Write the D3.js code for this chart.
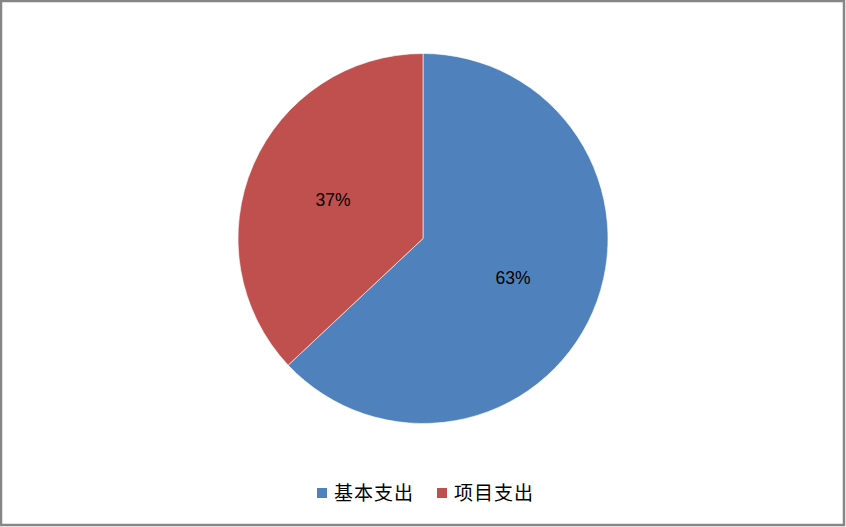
<!DOCTYPE html>
<html>
<head>
<meta charset="utf-8">
<script src="https://cdn.jsdelivr.net/npm/d3@7"></script>
<style>
  body { margin: 0; background: #fff; }
  svg { display: block; }
</style>
</head>
<body>
<svg id="chart"></svg>
<script>
// data //
var categories = ["基本支出", "项目支出"];
var values = [63, 37];
var labels = ["63%", "37%"];
var colors = ["#4f81bd", "#c0504d"];

var screen = {width: 846, height: 527};
var center = {x: 423, y: 238.5};
var radius = 185;

var svg = d3.select("#chart")
            .attr("width", screen.width)
            .attr("height", screen.height);

// outer frame //
svg.append("rect")
   .attr("x", 1)
   .attr("y", 1)
   .attr("width", screen.width - 3)
   .attr("height", screen.height - 3)
   .style("fill", "#fff")
   .style("stroke", "#868686")
   .style("stroke-width", 2.5);

var pie = d3.pie().sort(null).value(function(d) { return d; });
var arcs = pie(values);

var arc = d3.arc().innerRadius(0).outerRadius(radius);
var labelArc = d3.arc().innerRadius(radius * 0.53).outerRadius(radius * 0.53);

var g = svg.append("g")
           .attr("transform", "translate(" + center.x + "," + center.y + ")");

g.selectAll("path")
 .data(arcs)
 .enter()
 .append("path")
 .attr("d", arc)
 .style("fill", function(d, i) { return colors[i]; })
 .style("stroke", "#fff")
 .style("stroke-width", 0.6);

g.selectAll("text")
 .data(arcs)
 .enter()
 .append("text")
 .attr("transform", function(d) { return "translate(" + labelArc.centroid(d) + ")"; })
 .attr("text-anchor", "middle")
 .attr("dy", "0.35em")
 .style("font-family", "'Liberation Sans', Arial, sans-serif")
 .style("font-size", "17.5px")
 .style("fill", "#000")
 .text(function(d, i) { return labels[i]; });

// legend //
var legendX = [317, 437];
var legend = svg.selectAll("g.legend")
                .data(categories)
                .enter()
                .append("g")
                .attr("class", "legend")
                .attr("transform", function(d, i) { return "translate(" + legendX[i] + ",488)"; });

legend.append("rect")
      .attr("width", 10)
      .attr("height", 10)
      .style("fill", function(d, i) { return colors[i]; });

legend.append("text")
      .attr("x", 17)
      .attr("y", 5)
      .attr("dy", "0.38em")
      .style("font-family", "'Noto Sans CJK SC', sans-serif")
      .style("font-size", "19px")
      .style("letter-spacing", "1px")
      .style("fill", "#000")
      .text(function(d) { return d; });
</script>
</body>
</html>
